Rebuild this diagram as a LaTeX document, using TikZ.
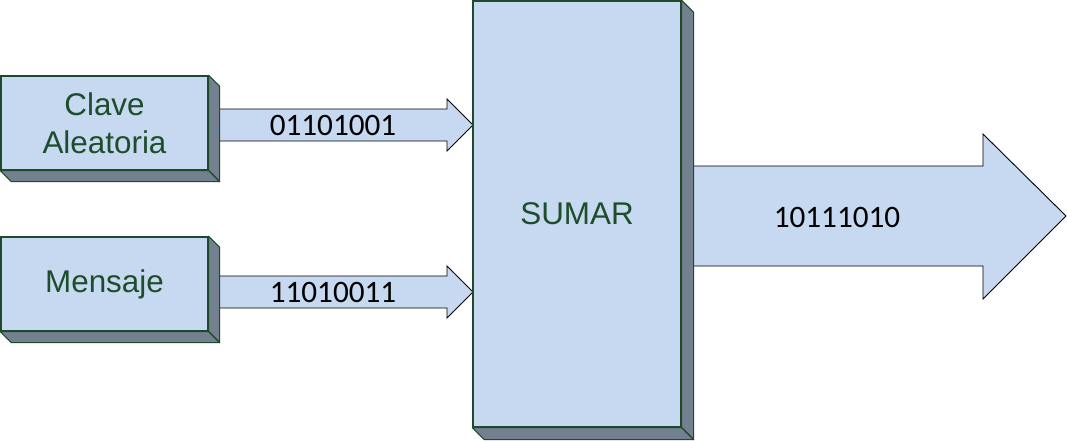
\documentclass[tikz,border=0pt]{standalone}
\usepackage{fontspec}
\setmainfont{Liberation Sans}
\newfontfamily\numfont{Carlito}
\usetikzlibrary{calc}
\definecolor{boxfill}{HTML}{C6D9F0}
\definecolor{sidefill}{HTML}{738090}
\definecolor{boxline}{HTML}{1E4A2A}
\definecolor{boxtext}{HTML}{1E4D2B}
\begin{document}
\begin{tikzpicture}[x=1pt,y=-1pt,
  front/.style={draw=boxline, line width=1.3pt, fill=boxfill, text=boxtext,
    font=\fontsize{31.4}{38}\selectfont, align=center, inner sep=0pt},
  depth/.style={draw=boxline, line width=1.1pt, fill=sidefill, line join=round},
  flow/.style={draw=black, line width=0.9pt, fill=boxfill, line join=miter},
  bits/.style={font=\numfont\fontsize{31.2}{36}\selectfont, text=black, inner sep=0pt}]
\useasboundingbox (0,0) rectangle (1067,440);

% arrows (drawn first so the 3D sides cover their tails)
\coordinate (a1s) at (214,125);
\coordinate (a1t) at (473,125);
\draw[flow] ($(a1s)+(0,-16)$) -- ($(a1t)+(-26,-16)$) -- ($(a1t)+(-26,-26)$) -- (a1t)
  -- ($(a1t)+(-26,26)$) -- ($(a1t)+(-26,16)$) -- ($(a1s)+(0,16)$);
\coordinate (a2s) at (214,292);
\coordinate (a2t) at (473,292);
\draw[flow] ($(a2s)+(0,-16)$) -- ($(a2t)+(-26,-16)$) -- ($(a2t)+(-26,-26)$) -- (a2t)
  -- ($(a2t)+(-26,26)$) -- ($(a2t)+(-26,16)$) -- ($(a2s)+(0,16)$);
\coordinate (a3s) at (686,216);
\coordinate (a3t) at (1066,216);
\draw[flow] ($(a3s)+(0,-50)$) -- ($(a3t)+(-83,-50)$) -- ($(a3t)+(-83,-82)$) -- (a3t)
  -- ($(a3t)+(-83,83)$) -- ($(a3t)+(-83,50)$) -- ($(a3s)+(0,50)$);

% boxes
\node[front, minimum width=207pt, minimum height=94pt] (clave) at (104.5,123) {Clave\\Aleatoria};
\draw[depth] (clave.north east) -- ++(11,11) -- ($(clave.south east)+(11,11)$) -- (clave.south east) -- cycle;
\draw[depth] (clave.south west) -- ++(11,11) -- ($(clave.south east)+(11,11)$) -- (clave.south east) -- cycle;

\node[front, minimum width=207pt, minimum height=94pt] (msg) at (104.5,284) {Mensaje};
\draw[depth] (msg.north east) -- ++(11,11) -- ($(msg.south east)+(11,11)$) -- (msg.south east) -- cycle;
\draw[depth] (msg.south west) -- ++(11,11) -- ($(msg.south east)+(11,11)$) -- (msg.south east) -- cycle;

\node[front, minimum width=208pt, minimum height=426pt] (sum) at (577,214) {SUMAR};
\draw[depth] (sum.north east) -- ++(12,12) -- ($(sum.south east)+(12,12)$) -- (sum.south east) -- cycle;
\draw[depth] (sum.south west) -- ++(12,12) -- ($(sum.south east)+(12,12)$) -- (sum.south east) -- cycle;

% labels on arrows
\node[bits] (l1) at (333,125) {01101001};
\node[bits] (l2) at (333,292) {11010011};
\node[bits] (l3) at (837,217) {10111010};
\end{tikzpicture}
\end{document}
